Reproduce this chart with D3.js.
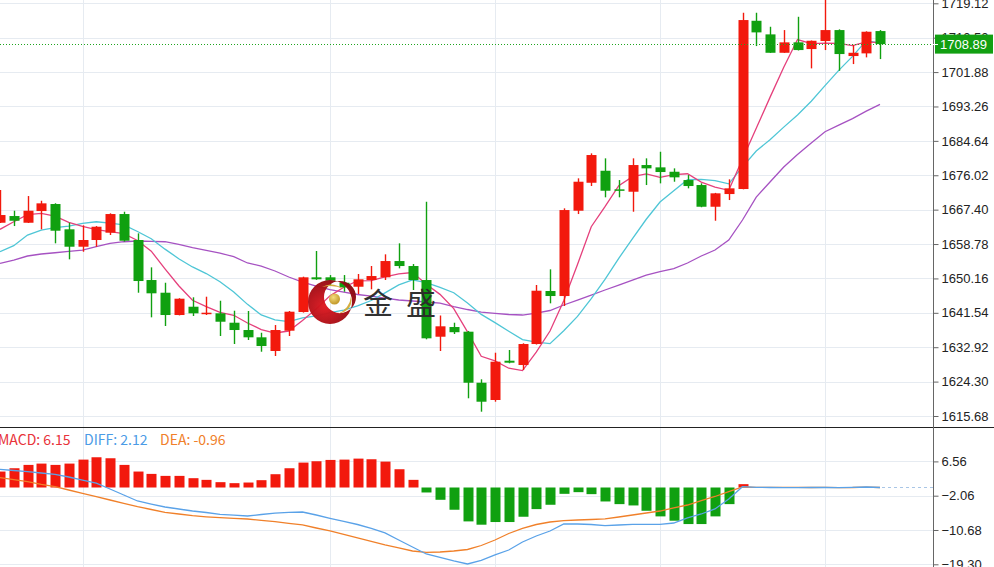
<!DOCTYPE html>
<html><head><meta charset="utf-8">
<script src="https://cdn.jsdelivr.net/npm/d3@7"></script>
<style>body{margin:0;background:#fff;overflow:hidden}</style>
</head><body><svg id="c" width="994" height="567"></svg>
<script>
// ---- data ----
const open  = [1664.12,1665.80,1664.12,1667.05,1668.81,1662.47,1658.11,1659.79,1661.62,1666.30,1659.79,1649.76,1646.58,1640.99,1643.07,1641.24,1641.42,1639.06,1637.23,1635.40,1631.97,1637.06,1641.74,1650.44,1650.44,1649.08,1648.08,1649.76,1650.44,1654.52,1653.27,1649.76,1635.55,1637.98,1636.81,1624.02,1619.69,1629.54,1628.46,1633.72,1647.01,1645.75,1667.13,1674.14,1677.15,1672.49,1671.89,1678.58,1678.00,1676.90,1674.82,1673.57,1668.13,1671.31,1672.57,1714.74,1711.33,1706.72,1709.33,1707.65,1709.66,1712.41,1705.90,1706.57,1712.16];
const high  = [1672.32,1667.13,1670.81,1669.63,1669.00,1664.12,1663.47,1663.29,1666.48,1666.88,1661.46,1652.94,1649.08,1645.20,1645.43,1645.58,1644.57,1642.07,1642.00,1636.55,1638.48,1642.00,1650.60,1657.03,1651.00,1651.01,1651.27,1653.27,1656.20,1658.96,1653.77,1669.38,1640.87,1639.06,1637.00,1624.88,1631.54,1632.22,1633.90,1648.51,1652.44,1667.73,1675.25,1681.51,1680.26,1674.82,1680.26,1680.26,1681.91,1677.75,1676.07,1674.00,1671.60,1675.00,1716.75,1716.75,1713.24,1712.41,1715.74,1709.80,1720.50,1712.59,1708.65,1712.10,1712.41];
const low   = [1664.05,1663.29,1664.05,1662.47,1658.96,1654.95,1656.85,1658.11,1661.04,1659.40,1646.58,1640.41,1638.23,1640.90,1640.74,1640.99,1635.73,1633.72,1634.73,1631.79,1630.72,1635.73,1641.60,1649.80,1648.50,1646.83,1646.25,1647.43,1649.76,1652.69,1647.26,1634.90,1631.97,1636.23,1620.12,1616.76,1619.26,1628.89,1627.21,1633.60,1643.92,1643.25,1666.30,1673.32,1670.49,1670.49,1666.88,1673.57,1673.99,1674.40,1672.74,1668.00,1664.62,1669.81,1672.50,1708.40,1706.70,1706.70,1707.30,1702.81,1707.40,1702.21,1703.89,1705.57,1705.14];
const close = [1666.05,1664.62,1667.13,1668.98,1662.12,1658.11,1659.79,1663.12,1666.30,1659.61,1649.51,1646.43,1640.99,1645.08,1641.42,1641.57,1639.31,1637.23,1635.40,1633.22,1637.23,1641.82,1650.44,1649.94,1649.59,1647.93,1649.94,1650.76,1654.52,1653.27,1649.76,1635.15,1638.16,1636.68,1624.02,1619.26,1629.29,1629.04,1633.72,1647.08,1645.75,1667.30,1674.40,1681.09,1672.14,1672.14,1678.58,1677.75,1676.83,1675.50,1673.32,1668.13,1671.49,1672.74,1714.92,1711.83,1706.72,1709.33,1707.40,1709.73,1712.41,1706.40,1706.72,1711.99,1708.89];
const ma5   = [1662.47,1664.37,1666.13,1666.48,1665.78,1664.19,1663.23,1662.42,1661.89,1661.39,1659.67,1656.99,1652.57,1648.32,1644.69,1643.10,1641.67,1640.92,1638.99,1637.35,1636.48,1636.98,1639.62,1642.53,1645.80,1647.94,1649.57,1649.63,1650.55,1651.28,1651.65,1648.69,1646.17,1642.60,1636.75,1630.65,1629.48,1627.66,1627.07,1631.68,1636.98,1644.58,1653.65,1663.12,1668.14,1673.41,1675.67,1676.34,1675.49,1676.16,1676.40,1674.31,1673.05,1672.24,1680.12,1687.82,1695.54,1703.11,1710.04,1709.00,1709.12,1709.05,1708.53,1709.45,1709.28];
const ma10  = [1656.85,1658.36,1661.04,1662.29,1662.87,1663.29,1663.97,1664.37,1664.00,1663.58,1661.93,1660.11,1657.50,1655.11,1653.04,1651.38,1649.33,1646.75,1643.66,1641.02,1639.79,1639.33,1640.27,1640.76,1641.58,1642.21,1643.27,1644.63,1646.54,1648.54,1649.80,1649.13,1647.90,1646.58,1644.02,1641.15,1639.09,1636.92,1634.84,1634.22,1633.82,1637.03,1640.65,1645.10,1649.91,1655.20,1660.12,1664.99,1669.31,1672.15,1674.91,1674.99,1674.70,1673.86,1678.14,1682.11,1684.92,1688.08,1691.14,1694.56,1698.47,1702.30,1705.82,1709.75,1709.14];
const ma20  = [1653.95,1654.77,1655.78,1656.28,1656.60,1656.95,1657.28,1658.11,1658.96,1659.36,1659.54,1659.46,1659.36,1658.71,1657.86,1657.21,1656.53,1655.60,1654.03,1653.27,1652.02,1650.52,1649.26,1648.26,1647.38,1646.75,1646.13,1645.75,1645.25,1644.75,1644.50,1644.25,1643.99,1643.12,1642.37,1641.74,1641.42,1641.12,1640.99,1641.49,1642.12,1643.50,1644.75,1646.00,1647.26,1648.51,1649.76,1651.01,1651.89,1652.64,1654.03,1655.78,1657.28,1659.79,1664.80,1670.56,1674.32,1678.08,1681.21,1684.09,1686.92,1688.60,1690.23,1692.11,1693.79];
const macdHist = [4.01,4.84,5.68,6.01,5.68,6.01,7.01,7.60,7.35,5.68,4.01,3.42,2.92,2.92,2.34,1.92,1.34,1.09,1.25,1.84,3.34,4.84,6.26,6.60,6.93,7.01,7.26,7.10,6.51,4.59,1.92,-1.25,-3.09,-5.59,-8.52,-9.35,-8.68,-8.68,-7.35,-5.43,-4.34,-1.59,-1.17,-1.67,-3.51,-4.18,-4.51,-5.85,-7.26,-8.35,-9.19,-9.19,-7.26,-4.18,0.84,0,0,0,0,0,0,0,0,0,0];
const diff = [4.57,4.27,3.97,3.64,3.32,2.64,1.88,1.08,-0.38,-1.88,-3.39,-4.15,-4.90,-5.40,-5.91,-6.28,-6.73,-6.96,-7.16,-6.79,-6.46,-6.23,-6.16,-6.91,-7.74,-8.54,-9.30,-10.30,-11.43,-13.19,-14.95,-16.71,-17.59,-18.47,-19.22,-18.34,-16.96,-15.71,-13.70,-12.19,-10.93,-9.17,-9.17,-9.30,-9.60,-9.42,-9.25,-9.25,-9.25,-8.92,-7.66,-6.66,-5.40,-2.89,0.20,0.05,0.00,-0.03,-0.03,0.00,0.00,-0.05,0.03,0.13,0.00];
const dea  = [2.46,1.96,1.48,0.80,0.20,-0.63,-1.46,-2.31,-3.14,-3.97,-4.82,-5.53,-6.23,-6.66,-7.09,-7.36,-7.59,-7.77,-7.92,-8.27,-8.59,-9.02,-9.42,-10.18,-10.93,-11.81,-12.69,-13.57,-14.45,-15.20,-15.96,-16.33,-16.21,-15.96,-15.58,-14.58,-13.19,-11.56,-10.30,-9.30,-8.67,-8.34,-8.17,-8.04,-7.87,-7.41,-6.91,-6.41,-5.91,-5.15,-4.40,-3.27,-2.26,-1.01,0.13,0.05,0.04,0.03,0.02,0.00,0.02,-0.02,0.00,0.10,0.00];
const priceTicks = [1719.12,1710.50,1701.88,1693.26,1684.64,1676.02,1667.40,1658.78,1650.16,1641.54,1632.92,1624.30,1615.68];
const macdTicks = [6.56,-2.06,-10.68,-19.30];
const vGridIdx = [6,24,36,48,60];
const lastPrice = 1708.89;
const header = [{t:"MACD: 6.15",c:"#e8323a"},{t:"DIFF: 2.12",c:"#4b9be6"},{t:"DEA: -0.96",c:"#f0802a"}];

// ---- drawing ----
const svg = d3.select("#c");
const W = 994, H = 567, axisX = 933;
const idx = d3.range(close.length);
const x = d3.scaleLinear().domain([0, 64]).range([0, 880]);
const y = d3.scaleLinear().domain([1615.68, 1719.12]).range([416, 3.3]);
const ym = d3.scaleLinear().domain([0, 6.56]).range([487.5, 461.4]);
const UP = "#f2190d", DN = "#10a010", GRID = "#e6ebf1";

// grid
const g = svg.append("g");
g.selectAll(".hg").data(priceTicks).join("line")
  .attr("x1",0).attr("x2",axisX).attr("y1",d=>Math.round(y(d))+0.5).attr("y2",d=>Math.round(y(d))+0.5)
  .attr("stroke",GRID).attr("stroke-width",1);
g.selectAll(".mg").data(macdTicks).join("line")
  .attr("x1",0).attr("x2",axisX).attr("y1",d=>Math.round(ym(d))+0.5).attr("y2",d=>Math.round(ym(d))+0.5)
  .attr("stroke",GRID).attr("stroke-width",1);
g.selectAll(".vg").data(vGridIdx).join("line")
  .attr("x1",d=>Math.round(x(d))+0.5).attr("x2",d=>Math.round(x(d))+0.5).attr("y1",0).attr("y2",H)
  .attr("stroke",GRID).attr("stroke-width",1);

// MA lines
const lineP = arr => d3.line().x((d,i)=>x(i)).y(d=>y(d))(arr);
[[ma20,"#a652c2"],[ma10,"#4fc6d6"],[ma5,"#e5407c"]].forEach(([a,c])=>{
  svg.append("path").attr("d",lineP(a)).attr("fill","none").attr("stroke",c).attr("stroke-width",1.3);
});

// candles
const cg = svg.append("g");
const bw = 10;
cg.selectAll("line.w").data(idx).join("line")
  .attr("x1",i=>Math.round(x(i))+0.5).attr("x2",i=>Math.round(x(i))+0.5)
  .attr("y1",i=>y(high[i])).attr("y2",i=>y(low[i]))
  .attr("stroke",i=>close[i]>=open[i]?UP:DN).attr("stroke-width",1.4);
cg.selectAll("rect.b").data(idx).join("rect")
  .attr("x",i=>Math.round(x(i))+0.5-bw/2).attr("width",bw)
  .attr("y",i=>y(Math.max(open[i],close[i])))
  .attr("height",i=>Math.max(1.5, Math.abs(y(open[i])-y(close[i]))))
  .attr("fill",i=>close[i]>=open[i]?UP:DN);

// logo watermark
const logo = svg.append("g").attr("opacity",0.97);
const defs = svg.append("defs");
const rg = defs.append("radialGradient").attr("id","rg").attr("cx","35%").attr("cy","60%").attr("r","70%");
rg.append("stop").attr("offset","0%").attr("stop-color","#e01820");
rg.append("stop").attr("offset","100%").attr("stop-color","#8a0a12");
const gg = defs.append("radialGradient").attr("id","gg").attr("cx","40%").attr("cy","35%").attr("r","60%");
gg.append("stop").attr("offset","0%").attr("stop-color","#f4dc7a");
gg.append("stop").attr("offset","100%").attr("stop-color","#c49a28");
const cx0=330, cy0=302, r0=22, cx1=340, cy1=297, r1=16;
logo.append("path")
  .attr("d",`M${cx0-r0},${cy0}a${r0},${r0} 0 1,0 ${2*r0},0a${r0},${r0} 0 1,0 ${-2*r0},0Z M${cx1-r1},${cy1}a${r1},${r1} 0 1,0 ${2*r1},0a${r1},${r1} 0 1,0 ${-2*r1},0Z`)
  .attr("fill","url(#rg)").attr("fill-rule","evenodd");
logo.append("circle").attr("cx",334.5).attr("cy",299).attr("r",5.5).attr("fill","url(#gg)");
logo.append("path").attr("d","M322,287 Q332,281 344,289 Q333,284 322,287Z").attr("fill","#d4ac3a");
logo.append("path").attr("d","M338,314 Q350,308 351,296 Q354,310 338,314Z").attr("fill","#d4ac3a");
logo.append("text").attr("x",363).attr("y",314).text("金")
  .attr("font-family","'Noto Sans CJK SC'").attr("font-size",30).attr("fill","#2b2b2b");
logo.append("text").attr("x",406).attr("y",314).text("盛")
  .attr("font-family","'Noto Sans CJK SC'").attr("font-size",30).attr("fill","#2b2b2b");

// last price dotted line
svg.append("line").attr("x1",0).attr("x2",axisX).attr("y1",Math.round(y(lastPrice))+0.5).attr("y2",Math.round(y(lastPrice))+0.5)
  .attr("stroke","#1fa51f").attr("stroke-dasharray","1,2").attr("stroke-width",1);

// MACD histogram
const mg = svg.append("g");
mg.selectAll("rect").data(idx).join("rect")
  .attr("x",i=>Math.round(x(i))+0.5-bw/2).attr("width",bw)
  .attr("y",i=>Math.min(ym(0),ym(macdHist[i])))
  .attr("height",i=>Math.abs(ym(macdHist[i])-ym(0)))
  .attr("fill",i=>macdHist[i]>=0?UP:DN);
const lineM = arr => d3.line().x((d,i)=>x(i)).y(d=>ym(d))(arr);
svg.append("path").attr("d",lineM(dea)).attr("fill","none").attr("stroke","#f0802a").attr("stroke-width",1.3);
svg.append("path").attr("d",lineM(diff)).attr("fill","none").attr("stroke","#5aa2e8").attr("stroke-width",1.3);
svg.append("line").attr("x1",x(64)+2).attr("x2",axisX).attr("y1",ym(0)).attr("y2",ym(0))
  .attr("stroke","#a9c6e6").attr("stroke-dasharray","3,3");

// header
const ht = svg.append("text").attr("y",445).attr("font-family","'Noto Sans CJK SC'").attr("font-size",14);
let hx = [-2, 84, 160];
header.forEach((h,k)=>{
  svg.append("text").attr("x",hx[k]).attr("y",445).text(h.t)
    .attr("font-family","'Noto Sans CJK SC'").attr("font-size",14).attr("fill",h.c);
});

// panel divider and axis
svg.append("line").attr("x1",0).attr("x2",W).attr("y1",427.5).attr("y2",427.5).attr("stroke","#222").attr("stroke-width",1);
svg.append("line").attr("x1",axisX+0.5).attr("x2",axisX+0.5).attr("y1",0).attr("y2",H).attr("stroke","#666").attr("stroke-width",1);

const ax = svg.append("g").attr("transform",`translate(${axisX+0.5},0)`);
const yAxis = d3.axisRight(y).tickValues(priceTicks).tickFormat(d3.format(".2f")).tickSize(5).tickPadding(3);
ax.call(yAxis);
const ax2 = svg.append("g").attr("transform",`translate(${axisX+0.5},0)`);
ax2.call(d3.axisRight(ym).tickValues(macdTicks).tickFormat(d3.format(".2f")).tickSize(5).tickPadding(3));
[ax,ax2].forEach(a=>{
  a.select(".domain").remove();
  a.selectAll("line").attr("stroke","#666");
  a.selectAll("text").attr("font-family","'Liberation Sans', Arial, sans-serif").attr("font-size",13).attr("fill","#222");
});

// last price label
const ly = y(lastPrice);
svg.append("rect").attr("x",935).attr("y",ly-9.5).attr("width",58).attr("height",19).attr("fill","#12a012");
svg.append("line").attr("x1",axisX).attr("x2",938).attr("y1",Math.round(ly)+0.5).attr("y2",Math.round(ly)+0.5).attr("stroke","#fff");
svg.append("text").attr("x",940).attr("y",ly+4.5).text(d3.format(".2f")(lastPrice))
  .attr("font-family","'Liberation Sans', Arial, sans-serif").attr("font-size",13).attr("fill","#fff");
</script></body></html>
